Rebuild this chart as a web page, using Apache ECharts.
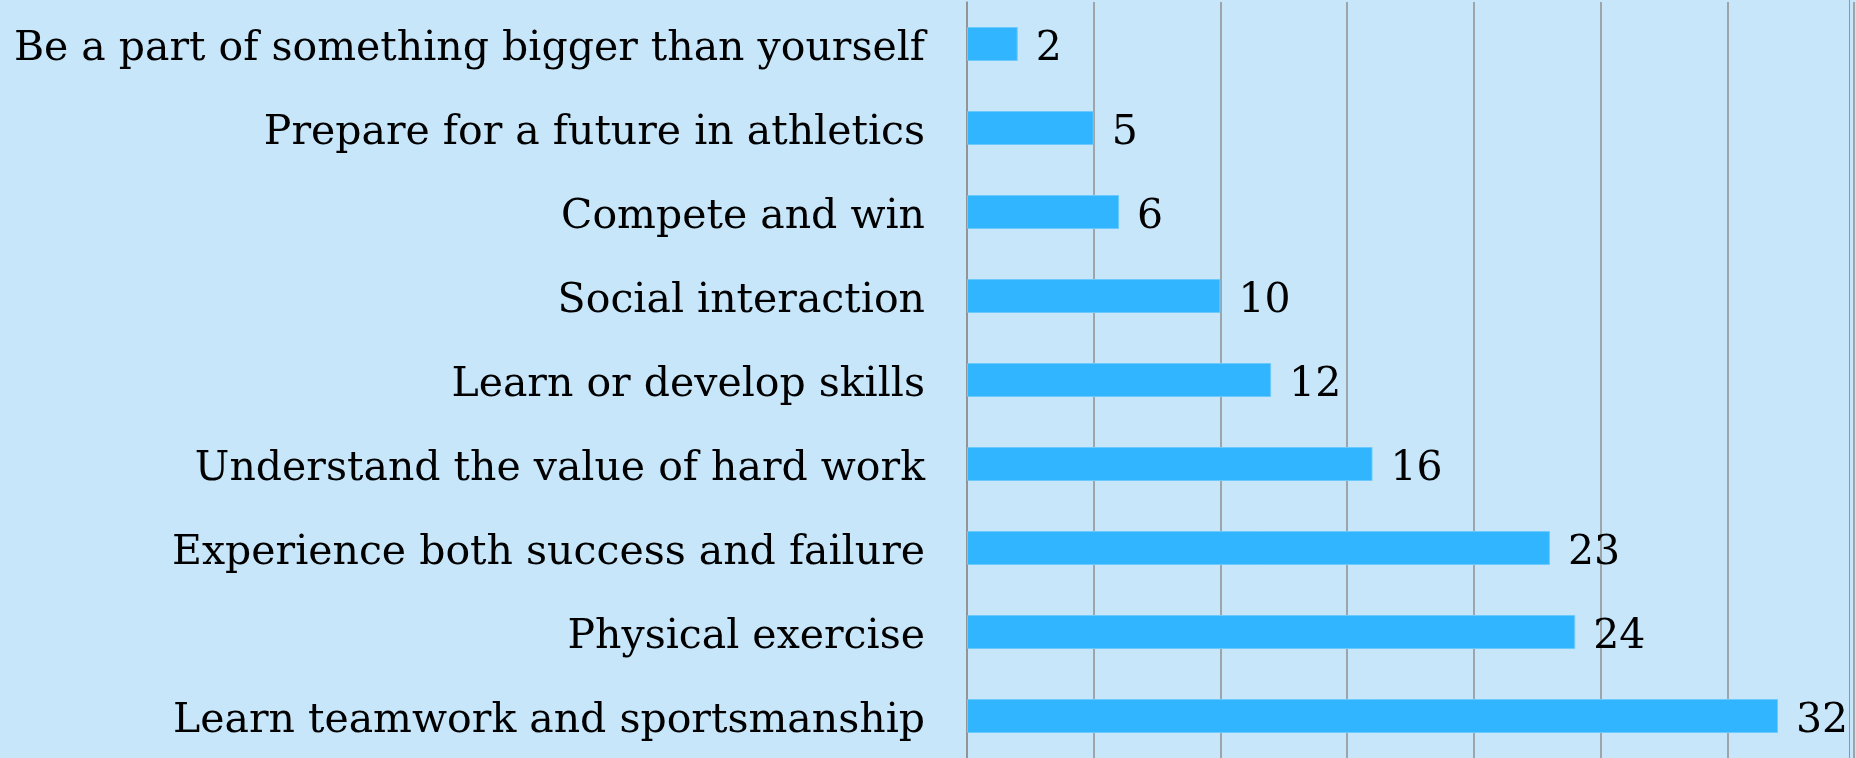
<!DOCTYPE html>
<html>
<head>
<meta charset="utf-8">
<title>Why kids play sports</title>
<script src="https://cdn.jsdelivr.net/npm/echarts@6/dist/echarts.min.js"></script>
<style>
    html, body { margin: 0; padding: 0; background: #c7e6fa; }
    #reasons_chart { width: 1856px; height: 758px; }
</style>
</head>
<body>
<div id="reasons_chart"></div>
<script>
// listed top to bottom, like the picture
var reasons = [
    'Be a part of something bigger than yourself',
    'Prepare for a future in athletics',
    'Compete and win',
    'Social interaction',
    'Learn or develop skills',
    'Understand the value of hard work',
    'Experience both success and failure',
    'Physical exercise',
    'Learn teamwork and sportsmanship'
];
var counts = [2, 5, 6, 10, 12, 16, 23, 24, 32];

// value axis has no labels, only gridlines every 5
var axisMin = 0;
var axisMax = 35;
var axisStep = 5;

var font = 'Georgia, "DejaVu Serif", serif';

var chart = echarts.init(document.getElementById('reasons_chart'));
var option = {
    backgroundColor: '#c7e6fa',
    animation: false,
    grid: {
        left: 967,
        top: 2,
        width: 887,
        height: 763  // last row runs off the bottom edge
    },
    xAxis: {
        type: 'value',
        min: axisMin,
        max: axisMax,
        interval: axisStep,
        axisLabel: { show: false },
        axisLine: { show: false },
        axisTick: { show: false },
        splitLine: { lineStyle: { color: '#8f8f8f', width: 1.5 } }
    },
    yAxis: {
        type: 'category',
        inverse: true,
        data: reasons,
        axisLine: { lineStyle: { color: '#8f8f8f', width: 1.5 } },
        axisTick: { length: 15, lineStyle: { color: '#8f8f8f', width: 1.5 } },
        axisLabel: {
            margin: 42,
            color: '#000',
            fontFamily: font,
            fontSize: 41,
            // labels sit a little below the row centre in the original
            formatter: function (val) {
                return '{t|' + val + '}';
            },
            rich: {
                t: {
                    color: '#000',
                    fontFamily: font,
                    fontSize: 41,
                    padding: [10, 0, 0, 0]
                }
            }
        }
    },
    series: [{
        type: 'bar',
        data: counts,
        barWidth: 34,
        itemStyle: {
            color: '#31b5ff',
            borderColor: '#6cc9fb',
            borderWidth: 1
        },
        label: {
            show: true,
            position: 'right',
            distance: 18,
            offset: [0, 5],
            color: '#000',
            fontFamily: font,
            fontSize: 41
        }
    }],
    graphic: [{
        // thin green edge near the right border
        type: 'line',
        shape: { x1: 1849.5, y1: 0, x2: 1849.5, y2: 758 },
        style: { stroke: '#5cb87a', lineWidth: 1 }
    }]
};

chart.setOption(option);

window.addEventListener('resize', function () {
    chart.resize();
});
</script>
</body>
</html>
